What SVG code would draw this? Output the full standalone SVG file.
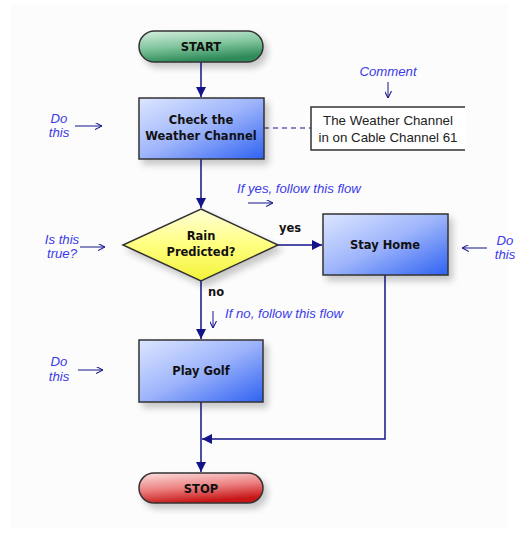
<svg xmlns="http://www.w3.org/2000/svg" width="515" height="536" viewBox="0 0 515 536">
<style>
.lbl{font-family:"DejaVu Sans","Liberation Sans",Arial,sans-serif;font-size:11.5px;font-weight:bold;fill:#111;text-anchor:middle}
.note{font-family:"Liberation Sans",Arial,sans-serif;font-size:13.2px;font-style:italic;fill:#3a3ae8}
.cmt{font-family:"Liberation Sans",Arial,sans-serif;font-size:13.3px;fill:#222;text-anchor:middle}
.shape{stroke:#333;stroke-width:1.5;filter:url(#sh)}
.flow{stroke:#14148a;stroke-width:1.5;fill:none}
.thin{stroke:#14148a;stroke-width:1;fill:none}
</style>
<defs>
<filter id="sh" x="-20%" y="-30%" width="150%" height="170%">
<feGaussianBlur in="SourceAlpha" stdDeviation="3.5"/>
<feOffset dx="4" dy="5" result="b"/>
<feComponentTransfer><feFuncA type="linear" slope="0.22"/></feComponentTransfer>
<feMerge><feMergeNode/><feMergeNode in="SourceGraphic"/></feMerge>
</filter>
<linearGradient id="gBlue" x1="0" y1="0" x2="1" y2="1">
<stop offset="0" stop-color="#dde6ff"/><stop offset="0.5" stop-color="#9db4fb"/><stop offset="1" stop-color="#2f62f2"/>
</linearGradient>
<linearGradient id="gGreen" x1="0" y1="0" x2="0.3" y2="1">
<stop offset="0" stop-color="#d6efdf"/><stop offset="0.55" stop-color="#7fc49c"/><stop offset="1" stop-color="#2e8a58"/>
</linearGradient>
<linearGradient id="gRed" x1="0" y1="0" x2="0.3" y2="1">
<stop offset="0" stop-color="#fbe0e0"/><stop offset="0.55" stop-color="#ec8080"/><stop offset="1" stop-color="#c81818"/>
</linearGradient>
<linearGradient id="gYel" x1="0" y1="0" x2="0" y2="1">
<stop offset="0" stop-color="#ffffd8"/><stop offset="0.5" stop-color="#ffff80"/><stop offset="1" stop-color="#f2f23a"/>
</linearGradient>
<marker id="ah" viewBox="0 0 10 10" refX="10" refY="5" markerWidth="10" markerHeight="10" markerUnits="userSpaceOnUse" orient="auto">
<path d="M0,0 L10,5 L0,10 z" fill="#14148a"/>
</marker>
<marker id="ahs" viewBox="0 0 10 10" refX="10" refY="5" markerWidth="7" markerHeight="7" markerUnits="userSpaceOnUse" orient="auto">
<path d="M0,0 L10,5 L0,10" fill="none" stroke="#14148a" stroke-width="1.5"/>
</marker>
</defs>
<rect x="0" y="0" width="515" height="536" fill="#ffffff"/>
<rect x="11" y="4" width="497" height="524" fill="#fcfcfc"/>

<g id="connectors">
<line class="flow" x1="201" y1="62" x2="201" y2="97" marker-end="url(#ah)"/>
<line class="flow" x1="201" y1="159" x2="201" y2="208" marker-end="url(#ah)"/>
<line class="flow" x1="278" y1="245" x2="322" y2="245" marker-end="url(#ah)"/>
<line class="flow" x1="201" y1="281" x2="201" y2="339" marker-end="url(#ah)"/>
<line class="flow" x1="201" y1="402" x2="201" y2="472" marker-end="url(#ah)"/>
<polyline class="flow" points="385,275 385,439 202,439" marker-end="url(#ah)"/>
<line x1="264" y1="128" x2="311" y2="128" stroke="#14148a" stroke-width="1.2" stroke-dasharray="5,4"/>
</g>

<g id="start">
<rect class="shape" x="139" y="31" width="124" height="31" rx="15.5" fill="url(#gGreen)"/>
<text class="lbl" x="201" y="50.5">START</text>
</g>

<g id="check">
<rect class="shape" x="139" y="98" width="125" height="61" fill="url(#gBlue)"/>
<text class="lbl" x="201" y="124">Check the</text>
<text class="lbl" x="201" y="140">Weather Channel</text>
</g>

<g id="comment">
<path d="M465,107 H311 V150 H465" fill="#ffffff" stroke="#333" stroke-width="1.5"/>
<text class="cmt" x="388" y="125">The Weather Channel</text>
<text class="cmt" x="388" y="141.5">in on Cable Channel 61</text>
</g>

<g id="decision">
<polygon class="shape" points="201,209 278,245 201,281 123,245" fill="url(#gYel)"/>
<text class="lbl" x="201" y="240">Rain</text>
<text class="lbl" x="201" y="256">Predicted?</text>
</g>

<g id="stayhome">
<rect class="shape" x="323" y="214" width="125" height="61" fill="url(#gBlue)"/>
<text class="lbl" x="385" y="249">Stay Home</text>
</g>

<g id="playgolf">
<rect class="shape" x="139" y="340" width="124" height="62" fill="url(#gBlue)"/>
<text class="lbl" x="201" y="375">Play Golf</text>
</g>

<g id="stop">
<rect class="shape" x="139" y="473" width="124" height="30" rx="15" fill="url(#gRed)"/>
<text class="lbl" x="201" y="492.5">STOP</text>
</g>

<g id="labels">
<text class="lbl" x="290" y="232">yes</text>
<text class="lbl" x="216" y="296">no</text>
</g>

<g id="annotations">
<text class="note" x="388" y="76" text-anchor="middle">Comment</text>
<line class="thin" x1="388" y1="82" x2="388" y2="98" marker-end="url(#ahs)"/>

<text class="note" x="59" y="123" text-anchor="middle">Do</text>
<text class="note" x="59" y="137" text-anchor="middle">this</text>
<line class="thin" x1="75" y1="126" x2="102" y2="126" marker-end="url(#ahs)"/>

<text class="note" x="62" y="244" text-anchor="middle">Is this</text>
<text class="note" x="62" y="258" text-anchor="middle">true?</text>
<line class="thin" x1="80" y1="247" x2="105" y2="247" marker-end="url(#ahs)"/>

<text class="note" x="237" y="193">If yes, follow this flow</text>
<line class="thin" x1="248" y1="203" x2="273" y2="203" marker-end="url(#ahs)"/>

<text class="note" x="505" y="245" text-anchor="middle">Do</text>
<text class="note" x="505" y="259" text-anchor="middle">this</text>
<line class="thin" x1="487" y1="248" x2="462" y2="248" marker-end="url(#ahs)"/>

<text class="note" x="225" y="318">If no, follow this flow</text>
<line class="thin" x1="213" y1="311" x2="213" y2="328" marker-end="url(#ahs)"/>

<text class="note" x="59" y="366" text-anchor="middle">Do</text>
<text class="note" x="59" y="381" text-anchor="middle">this</text>
<line class="thin" x1="78" y1="370" x2="103" y2="370" marker-end="url(#ahs)"/>
</g>
</svg>
